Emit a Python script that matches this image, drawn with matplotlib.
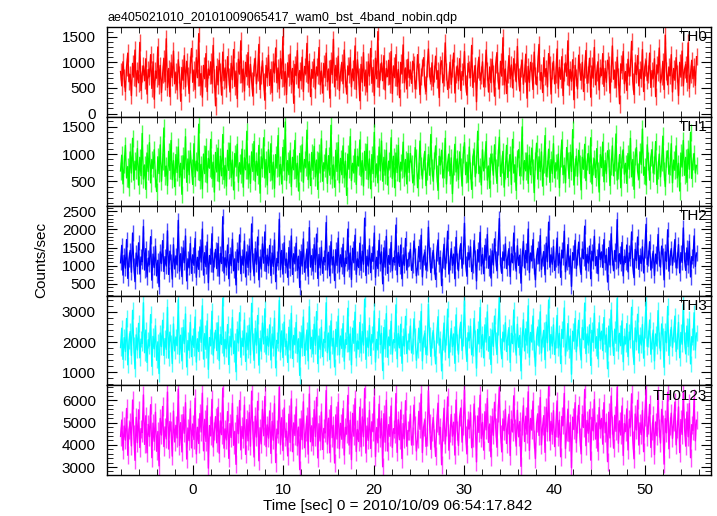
import numpy as np
import matplotlib
matplotlib.use('Agg')
import matplotlib.pyplot as plt
from matplotlib.ticker import MultipleLocator

plt.rcParams['font.family'] = ['Liberation Sans', 'DejaVu Sans']
plt.rcParams['font.size'] = 11

title = 'ae405021010_20101009065417_wam0_bst_4band_nobin.qdp'
xlabel = 'Time [sec] 0 = 2010/10/09 06:54:17.842'
ylabel = 'Counts/sec'
t_start = -8.0
t_end = 55.7

bands = ['TH0', 'TH1', 'TH2', 'TH3', 'TH0123']
# typical 1-sigma error per bin
errs = [170, 160, 210, 270, 410]

th0 = [820, 540, 1010, 690, 430, 910, 1180, 620, 760, 350, 980, 710, 1240, 520, 840, 600, 1390, 450, 780, 930,
       640, 1070, 380, 860, 720, 1150, 490, 1010, 280, 830, 690, 1300, 560, 940, 410, 770, 1080, 620, 1460, 510,
       880, 330, 990, 700, 1220, 580, 810, 460, 1050, 760, 240, 900, 650, 1130, 520, 1020, 730, 390, 960, 1270,
       610, 850, 470, 1090, 700, 1560, 540, 780, 320, 940, 680, 1170, 430, 870, 750, 1010, 580, 1330, 690, 150,
       920, 560, 1040, 810, 360, 1200, 640, 890, 500, 1110, 720, 420, 980, 660, 1250, 530, 830, 290, 1060, 770,
       1420, 600, 870, 440, 1000, 720, 1190, 510, 960, 640, 340, 910, 1080, 580, 800, 1350, 470, 750, 1030, 620,
       260, 940, 700, 1140, 550, 860, 410, 1010, 790, 1280, 600, 890, 480, 1070, 680, 1500, 530, 820, 370, 990,
       710, 1160, 570, 880, 200, 960, 740, 1230, 500, 840, 640, 1100, 430, 920, 780, 1370, 590, 1020, 330, 860,
       690, 1060, 480, 910, 750, 1290, 560, 830, 400, 980, 700, 1180, 620, 870, 300, 1040, 760, 1450, 520, 940,
       650, 1120, 450, 800, 1000, 580, 1240, 690, 380, 930, 760, 1090, 520, 870, 640, 1320, 470, 1050, 720, 250,
       960, 610, 1190, 540, 850, 420, 1010, 730, 1270, 590, 900, 350, 1080, 680, 1600, 510, 820, 990, 640, 1130,
       460, 880, 720, 1040, 570, 1210, 390, 930, 700, 1150, 530, 860, 310, 1000, 770, 1340, 600, 890, 480, 1060,
       700, 850, 590, 1020, 960, 480, 640, 1150, 810, 370, 720, 900, 1090, 560, 430, 880, 1260, 740, 620, 990,
       530, 780, 1120, 670, 840, 310, 950, 1030, 600, 710, 1380, 820, 470, 660, 1000, 570, 890, 1180, 400, 760,
       930, 640, 1070, 450, 820, 730, 1210, 590, 360, 980, 860, 700, 1330, 510, 780, 940, 230, 870, 1100, 650,
       750, 1010, 520, 690, 1240, 830, 420, 910, 600, 1060, 780, 340, 960, 1190, 640, 480, 1020, 730, 1480, 560,
       870, 390, 760, 1130, 680, 950, 500, 1070, 820, 620, 1310, 710, 440, 890, 1040, 570, 790, 1160, 300, 920,
       610, 1000, 830, 470, 1200, 740, 560, 980, 1350, 650, 800, 410, 1090, 720, 880, 520, 1170, 960, 380, 840,
       1020, 580, 760, 1260, 490, 900, 670, 1110, 350, 810, 990, 730, 1420, 540, 860, 630, 1050, 270, 940, 700,
       480, 1140, 820, 650, 1000, 430, 870, 1230, 590, 760, 1080, 320, 930, 690, 1290, 560, 800, 1010, 460, 890,
       740, 1170, 530, 880, 610, 1040, 950, 400, 780, 1320, 670, 850, 500, 1100, 720, 190, 970, 840, 1210, 580,
       820, 450, 1060, 730, 900, 1410, 620, 370, 990, 760, 1130, 540, 860, 680, 1250, 430, 910, 1030, 640, 770,
       1180, 510, 840, 690, 1070, 330, 950, 800, 1280, 600, 720, 1020, 470, 1530, 830, 560, 910, 740, 1150, 420,
       880, 650, 1090, 780, 350, 1000, 710, 1220, 540, 860, 960, 610, 1380, 490, 770, 1040, 680, 920, 550, 1110]

th1 = [690, 980, 450, 820, 1160, 560, 770, 380, 1040, 650, 1290, 520, 870, 710, 1100, 430, 940, 600, 1380, 540,
       800, 350, 1020, 680, 1210, 470, 900, 730, 1080, 560, 310, 950, 640, 1170, 500, 860, 1480, 590, 780, 420,
       1050, 700, 1250, 530, 880, 400, 990, 660, 1130, 570, 830, 260, 970, 720, 1320, 480, 910, 620, 1060, 750,
       440, 1190, 580, 870, 690, 1550, 510, 810, 360, 1000, 640, 1140, 470, 920, 740, 1270, 550, 850, 300, 1030,
       670, 1110, 490, 960, 600, 1360, 530, 790, 410, 1070, 700, 1200, 570, 890, 340, 1010, 760, 1180, 480, 840,
       630, 1090, 390, 930, 710, 1420, 540, 820, 460, 1040, 680, 1230, 500, 870, 610, 1160, 280, 950, 730, 1300,
       560, 900, 430, 1080, 660, 1190, 520, 850, 370, 990, 740, 1340, 590, 810, 450, 1120, 690, 1590, 510, 880,
       620, 1060, 400, 940, 710, 1250, 550, 830, 320, 1010, 670, 1170, 480, 900, 760, 1440, 530, 860, 420, 1030,
       700, 1140, 580, 890, 350, 1020, 650, 1280, 500, 840, 730, 1100, 460, 970, 610, 1530, 540, 800, 390, 1070,
       680, 1210, 470, 920, 620, 1150, 560, 870, 240, 1000, 720, 1320, 510, 830, 650, 1090, 440, 960, 780, 1260,
       590, 880, 410, 1050, 700, 1180, 530, 910, 360, 990, 640, 1400, 570, 820, 470, 1130, 690, 1240, 500, 940,
       610, 1070, 430, 870, 740, 1300, 550, 960, 380, 1020, 660, 1160, 490, 850, 720, 1220, 580, 900, 450, 1010,
       660, 1010, 820, 470, 590, 1120, 930, 380, 700, 1240, 780, 540, 860, 1050, 420, 690, 990, 610, 1360, 750,
       500, 880, 1150, 640, 330, 960, 800, 1070, 560, 720, 1290, 450, 840, 1000, 600, 930, 270, 780, 1180, 670,
       910, 530, 1040, 760, 410, 990, 1210, 620, 850, 480, 1130, 700, 350, 950, 1060, 580, 820, 1420, 640, 760,
       430, 1080, 690, 900, 1230, 520, 780, 370, 1000, 860, 610, 1170, 740, 460, 940, 1310, 590, 820, 1050, 390,
       710, 1160, 570, 840, 990, 440, 1270, 650, 800, 330, 920, 1080, 600, 760, 1500, 520, 880, 690, 1020, 460,
       980, 620, 1110, 750, 290, 870, 1200, 540, 950, 680, 1040, 410, 820, 1340, 590, 730, 1090, 480, 900, 640,
       1190, 560, 840, 710, 1000, 380, 930, 1260, 620, 790, 470, 1120, 870, 550, 1030, 680, 1450, 430, 760, 960,
       590, 1070, 820, 340, 940, 720, 1180, 510, 860, 1010, 640, 1300, 450, 780, 910, 570, 1100, 700, 300, 990,
       750, 1220, 490, 880, 640, 1060, 930, 420, 770, 1150, 600, 850, 1370, 520, 700, 990, 380, 910, 1080, 630,
       830, 460, 1010, 720, 1290, 580, 900, 350, 960, 1120, 680, 540, 1040, 810, 1460, 610, 760, 430, 1170, 870,
       520, 940, 1080, 650, 800, 1230, 440, 710, 1000, 580, 850, 1330, 690, 400, 920, 1060, 630, 780, 1190, 470,
       890, 700, 1150, 560, 830, 320, 1020, 760, 1250, 610, 940, 480, 1090, 720, 1400, 550, 860, 1010, 650, 790]

th2 = [1080, 1560, 740, 1290, 930, 1720, 650, 1180, 1420, 820, 1900, 1010, 560, 1350, 980, 1630, 770, 1240, 1110, 2080,
       880, 1470, 690, 1210, 1030, 1800, 600, 1320, 950, 1540, 720, 1150, 420, 1380, 1060, 1690, 840, 1250, 990, 1960,
       760, 1400, 1120, 630, 1580, 910, 1270, 1020, 2250, 850, 1330, 700, 1490, 1080, 1820, 580, 1190, 940, 1610, 790,
       1300, 1010, 1750, 680, 1230, 900, 1520, 1100, 2010, 740, 1360, 970, 1650, 530, 1280, 1040, 1880, 820, 1170, 1450,
       920, 1610, 710, 1340, 1060, 2350, 800, 1220, 960, 1570, 640, 1310, 1000, 1730, 860, 1190, 470, 1440, 1090, 1850,
       780, 1260, 1010, 1680, 690, 1380, 950, 1540, 820, 2150, 1130, 720, 1470, 1040, 1790, 610, 1240, 910, 1600, 1070,
       1930, 840, 1290, 1000, 1560, 730, 1350, 980, 1710, 560, 1200, 1080, 2280, 890, 1420, 770, 1630, 1010, 1180, 680,
       1500, 930, 1820, 760, 1330, 1050, 1620, 870, 1260, 400, 1390, 990, 1740, 820, 1150, 1460, 710, 2050, 960, 1280,
       850, 1580, 1030, 1870, 650, 1310, 940, 1510, 790, 1230, 1100, 2190, 880, 1370, 720, 1660, 1020, 1250, 590, 1440,
       1010, 1760, 830, 1300, 970, 1590, 700, 1210, 1060, 2010, 900, 1350, 620, 1480, 1080, 1840, 760, 1190, 950, 1620,
       870, 1400, 1040, 2310, 730, 1260, 990, 1550, 810, 1340, 1120, 1900, 680, 1230, 920, 1700, 1050, 1380, 500, 1490,
       960, 1810, 790, 1280, 1030, 1640, 860, 1220, 1090, 2120, 750, 1360, 980, 1570, 640, 1300, 1010, 1750, 880, 1170,
       1190, 1450, 870, 1020, 1680, 1290, 720, 950, 1530, 1110, 1840, 690, 1240, 1370, 880, 1060, 2060, 1300, 810, 1160,
       1420, 980, 620, 1350, 1710, 1040, 1230, 450, 1160, 1590, 900, 1280, 1950, 770, 1090, 1470, 1010, 1320, 640, 1780,
       1130, 860, 1400, 1610, 930, 1250, 2170, 1070, 710, 1360, 1180, 1520, 840, 1010, 1690, 1230, 580, 1440, 1100, 1920,
       990, 1310, 780, 1560, 1150, 1860, 930, 1270, 660, 1410, 1020, 1740, 1200, 860, 1510, 2300, 1040, 790, 1380, 1140,
       1600, 920, 1230, 1470, 700, 1330, 1080, 1900, 1160, 850, 1550, 1010, 1290, 520, 1210, 1670, 940, 1420, 1080, 2010,
       810, 1350, 1140, 1720, 990, 610, 1260, 1480, 1050, 1830, 900, 1200, 1390, 750, 1620, 1110, 2200, 960, 1300, 1040,
       1530, 870, 1180, 1760, 1010, 1340, 680, 1430, 1220, 1950, 830, 1100, 1580, 970, 1270, 430, 1360, 1160, 1700, 920,
       1240, 1650, 1030, 760, 1460, 1190, 2090, 880, 1310, 1070, 1540, 640, 1400, 1130, 1810, 1000, 1250, 780, 1600, 1170,
       1380, 950, 1720, 1080, 1290, 550, 1500, 1020, 1880, 1230, 860, 1420, 1110, 2270, 940, 1330, 1050, 1640, 720, 1260,
       1090, 1570, 830, 1350, 1200, 1930, 990, 670, 1450, 1140, 1790, 900, 1280, 1060, 1520, 800, 1410, 2140, 1030, 1210,
       1660, 880, 1150, 1400, 730, 1320, 1050, 1860, 1190, 960, 1540, 1270, 610, 1380, 1120, 1990, 850, 1230, 1470, 1010,
       1300, 1720, 940, 1160, 1580, 800, 1360, 1090, 2040, 1180, 870, 1490, 1020, 1670, 690, 1250, 1140, 1820, 980, 1350]

th3 = [1820, 2460, 1430, 2150, 1690, 2780, 1250, 2040, 2350, 1560, 3050, 1900, 1120, 2240, 1740, 2620, 1480, 2100, 1960, 3300,
       1650, 2400, 1330, 2080, 1870, 2910, 1200, 2190, 1780, 2540, 1400, 2010, 960, 2300, 1850, 2720, 1560, 2120, 1760, 3150,
       1470, 2330, 1980, 1290, 2600, 1710, 2170, 1880, 3400, 1590, 2230, 1380, 2480, 1950, 2930, 1180, 2050, 1730, 2650, 1520,
       2200, 1820, 2830, 1340, 2110, 1690, 2500, 1990, 3200, 1440, 2280, 1760, 2700, 1100, 2150, 1890, 3020, 1570, 2060, 2390,
       1720, 2640, 1390, 2250, 1920, 3450, 1540, 2090, 1780, 2580, 1260, 2190, 1840, 2810, 1620, 2040, 1020, 2420, 1970, 2970,
       1500, 2130, 1850, 2730, 1360, 2300, 1750, 2560, 1580, 3280, 2020, 1400, 2450, 1900, 2880, 1240, 2120, 1700, 2630, 1940,
       3100, 1600, 2190, 1860, 2570, 1410, 2270, 1800, 2790, 1150, 2060, 1960, 3380, 1670, 2370, 1490, 2660, 1850, 2030, 1330,
       2490, 1740, 2950, 1460, 2220, 1910, 2650, 1620, 2110, 900, 2310, 1810, 2830, 1560, 2000, 2400, 1380, 3170, 1780, 2160,
       1610, 2590, 1890, 3010, 1290, 2200, 1760, 2490, 1520, 2090, 1990, 3300, 1650, 2300, 1420, 2700, 1870, 2130, 1180, 2420,
       1850, 2860, 1580, 2200, 1790, 2610, 1370, 2080, 1930, 3120, 1680, 2270, 1250, 2460, 1960, 2990, 1480, 2040, 1770, 2650,
       1640, 2350, 1900, 3420, 1430, 2140, 1820, 2550, 1560, 2250, 2010, 3030, 1340, 2090, 1740, 2780, 1920, 2290, 1060, 2480,
       1780, 2940, 1500, 2170, 1880, 2690, 1600, 2080, 1990, 3230, 1450, 2280, 1810, 2590, 1300, 2190, 1870, 2850, 1620, 2040,
       2010, 2530, 1640, 1870, 2770, 2180, 1400, 1750, 2460, 1980, 3010, 1380, 2120, 2290, 1590, 1840, 3250, 2220, 1530, 2060,
       2380, 1810, 1280, 2240, 2840, 1900, 2100, 1050, 2010, 2630, 1670, 2170, 3090, 1480, 1950, 2450, 1850, 2270, 1300, 2900,
       2000, 1600, 2390, 2660, 1720, 2150, 3360, 1890, 1360, 2310, 2060, 2520, 1580, 1820, 2780, 2120, 1140, 2420, 1940, 3140,
       1790, 2250, 1480, 2570, 2000, 3000, 1700, 2180, 1260, 2400, 1860, 2860, 2080, 1590, 2520, 3470, 1880, 1450, 2330, 2010,
       2640, 1690, 2160, 2480, 1330, 2290, 1950, 3060, 2040, 1570, 2590, 1830, 2220, 1050, 2100, 2740, 1710, 2440, 1900, 3200,
       1500, 2320, 2000, 2860, 1790, 1200, 2190, 2500, 1870, 3000, 1640, 2120, 2390, 1420, 2660, 1980, 3390, 1740, 2250, 1870,
       2570, 1590, 2070, 2880, 1810, 2290, 1290, 2420, 2120, 3130, 1540, 1960, 2610, 1760, 2200, 940, 2360, 2030, 2780, 1680,
       2150, 2720, 1860, 1410, 2480, 2080, 3290, 1620, 2270, 1900, 2570, 1230, 2390, 1990, 2950, 1800, 2180, 1450, 2640, 2050,
       2360, 1720, 2810, 1930, 2240, 1120, 2530, 1840, 3060, 2140, 1560, 2430, 1960, 3440, 1700, 2290, 1880, 2700, 1350, 2190,
       1940, 2610, 1520, 2330, 2090, 3150, 1790, 1260, 2470, 2010, 2920, 1640, 2230, 1900, 2580, 1470, 2410, 3320, 1860, 2120,
       2730, 1600, 2030, 2400, 1380, 2270, 1870, 3040, 2080, 1710, 2600, 2190, 1170, 2350, 1980, 3180, 1560, 2150, 2490, 1820,
       2260, 2860, 1690, 2040, 2650, 1480, 2320, 1930, 3240, 2070, 1610, 2530, 1850, 2760, 1280, 2180, 2000, 2970, 1740, 2300]

th0123 = [4380, 5120, 3760, 4850, 4210, 5640, 3530, 4690, 5010, 3950, 6020, 4470, 3300, 5240, 4100, 5580, 3880, 4730, 4560, 6250,
          4020, 5310, 3640, 4920, 4370, 5810, 3420, 4980, 4160, 5470, 3710, 4600, 3050, 5190, 4440, 5730, 3920, 4810, 4270, 6380,
          3810, 5050, 4650, 3490, 5520, 4130, 4880, 4310, 6510, 3970, 5000, 3680, 5360, 4520, 5900, 3360, 4760, 4190, 5620, 3860,
          4940, 4240, 6100, 3590, 4790, 4060, 5410, 4580, 6330, 3730, 5150, 4150, 5760, 2950, 4870, 4400, 6050, 3900, 4640, 5270,
          4090, 5690, 3620, 5080, 4460, 6560, 3850, 4720, 4220, 5500, 3390, 4960, 4330, 5870, 3980, 4610, 3120, 5330, 4500, 6000,
          3770, 4830, 4280, 5790, 3570, 5140, 4180, 5450, 3940, 6420, 4660, 3450, 5290, 4350, 5960, 3280, 4770, 4040, 5600, 4410,
          6180, 3920, 4900, 4300, 5530, 3610, 5060, 4210, 5850, 3200, 4710, 4490, 6600, 4000, 5220, 3740, 5660, 4340, 4620, 3500,
          5380, 4110, 6070, 3690, 4990, 4420, 5710, 3950, 4800, 2880, 5170, 4230, 5940, 3870, 4570, 5300, 3580, 6290, 4140, 4860,
          3960, 5590, 4370, 6140, 3410, 4950, 4170, 5480, 3790, 4740, 4530, 6450, 4030, 5200, 3640, 5770, 4320, 4880, 3180, 5350,
          4260, 5920, 3830, 4970, 4250, 5630, 3540, 4790, 4480, 6230, 3990, 5110, 3330, 5420, 4390, 6080, 3700, 4690, 4150, 5700,
          3910, 5260, 4360, 6540, 3630, 4850, 4200, 5560, 3840, 5040, 4590, 6160, 3470, 4780, 4090, 5830, 4310, 5180, 3010, 5400,
          4120, 6010, 3720, 4910, 4380, 5750, 3880, 4730, 4510, 6310, 3660, 5130, 4230, 5570, 3380, 4960, 4270, 5990, 3940, 4650,
          4620, 5380, 3990, 4410, 5790, 4890, 3720, 4250, 5510, 4700, 6290, 3650, 4800, 5100, 3930, 4350, 6440, 4960, 3800, 4590,
          5230, 4320, 3480, 4990, 5880, 4450, 4780, 3100, 4600, 5650, 4040, 4830, 6160, 3760, 4520, 5370, 4390, 5020, 3540, 6020,
          4650, 3970, 5260, 5660, 4120, 4870, 6470, 4460, 3590, 5130, 4720, 5450, 3870, 4300, 5840, 4920, 3230, 5300, 4560, 6240,
          4290, 5010, 3760, 5490, 4670, 6090, 4110, 4940, 3460, 5270, 4430, 5920, 4780, 3890, 5420, 6580, 4500, 3680, 5170, 4640,
          5600, 4060, 4910, 5380, 3520, 5150, 4580, 6210, 4740, 3940, 5560, 4360, 5050, 3030, 4860, 5760, 4150, 5290, 4480, 6390,
          3750, 5190, 4660, 5970, 4250, 3380, 4980, 5400, 4420, 6130, 4000, 4850, 5320, 3660, 5690, 4590, 6620, 4180, 5060, 4470,
          5540, 3920, 4770, 5980, 4340, 5110, 3460, 5280, 4880, 6320, 3830, 4570, 5610, 4150, 5000, 2970, 5250, 4690, 5900, 4090,
          4930, 5780, 4370, 3590, 5370, 4780, 6500, 3960, 5100, 4520, 5580, 3310, 5240, 4630, 6040, 4260, 4990, 3710, 5680, 4720,
          5190, 4030, 5900, 4540, 5020, 3240, 5470, 4310, 6200, 4890, 3850, 5330, 4610, 6600, 4070, 5080, 4440, 5750, 3520, 4960,
          4600, 5620, 3770, 5160, 4800, 6300, 4230, 3370, 5390, 4670, 6010, 3990, 4990, 4460, 5550, 3690, 5260, 6480, 4370, 4880,
          5820, 3880, 4620, 5320, 3560, 5030, 4410, 6230, 4750, 4080, 5600, 4920, 3130, 5180, 4540, 6370, 3820, 4850, 5430, 4290,
          5020, 5930, 4000, 4700, 5710, 3650, 5140, 4470, 6350, 4810, 3940, 5480, 4360, 5860, 3420, 4910, 4650, 6100, 4180, 5110]

series = [th0, th1, th2, th3, th0123]
colors = ['#ff0000', '#00ff00', '#0000ff', '#00ffff', '#ff00ff']
ylims = [(-60, 1690), (40, 1690), (170, 2640), (570, 3530), (2640, 6680)]
major = [500, 500, 500, 1000, 1000]
minor = [100, 100, 100, 200, 200]

n = len(th0)
t = t_start + (t_end - t_start) * np.arange(n) / (n - 1)

fig = plt.figure(figsize=(7.17, 5.16), dpi=100)
left, right = 107 / 717, 711 / 717
top, bottom = 1 - 27 / 516, 1 - 475 / 516
h = (top - bottom) / 5

axes = []
for i in range(5):
    ax = fig.add_axes([left, top - (i + 1) * h, right - left, h])
    ax.errorbar(t, series[i], yerr=errs[i], fmt='none', ecolor=colors[i],
                elinewidth=1.0, alpha=0.7, capsize=0)
    ax.plot(t, series[i], color=colors[i], lw=1.0)
    ax.set_xlim(-9.5, 57.3)
    ax.set_ylim(*ylims[i])
    ax.yaxis.set_major_locator(MultipleLocator(major[i]))
    ax.yaxis.set_minor_locator(MultipleLocator(minor[i]))
    ax.xaxis.set_major_locator(MultipleLocator(10))
    ax.xaxis.set_minor_locator(MultipleLocator(2))
    ax.tick_params(which='both', direction='in', top=True, right=True, labelsize=11)
    ax.tick_params(which='major', length=7)
    ax.tick_params(which='minor', length=4)
    ax.tick_params(axis='y', pad=8)
    ax.tick_params(axis='x', pad=6)
    for s in ax.spines.values():
        s.set_linewidth(1.0)
    if i < 4:
        ax.tick_params(labelbottom=False)
    ax.text(0.994, 0.965, bands[i], transform=ax.transAxes, ha='right', va='top', fontsize=11)
    axes.append(ax)

axes[0].set_title(title, loc='left', fontsize=9, pad=4)
axes[-1].set_xlabel(xlabel, fontsize=11)
axes[-1].xaxis.set_label_coords(0.481, -0.265)
fig.text(41 / 717, 1 - 260 / 516, ylabel, rotation=90, va='center', ha='center', fontsize=11)

fig.savefig('out.png', dpi=100)
